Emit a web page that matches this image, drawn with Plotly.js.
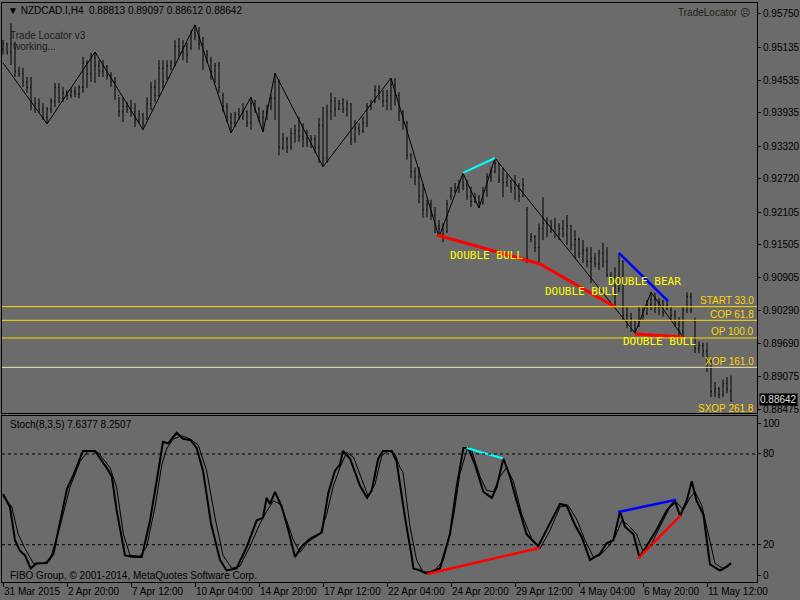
<!DOCTYPE html>
<html>
<head>
<meta charset="utf-8">
<script src="https://cdn.plot.ly/plotly-3.0.1.min.js"></script>
<style>body{margin:0;background:#6b6b6b}</style>
</head>
<body>
<div id="chart" style="width:800px;height:600px"></div>
<script>
// NZDCAD.I H4 bars, oldest first
var highs = [
  0.9527,0.9522,0.9558,0.9524,0.9478,0.9476,0.9459,0.9459,0.9422,0.9420,
  0.9411,0.9404,0.9420,0.9448,0.9448,0.9441,0.9435,0.9439,0.9441,0.9444,
  0.9496,0.9490,0.9503,0.9505,0.9490,0.9490,0.9481,0.9468,0.9459,0.9422,
  0.9422,0.9413,0.9417,0.9411,0.9398,0.9393,0.9422,0.9450,0.9454,0.9490,
  0.9490,0.9490,0.9490,0.9527,0.9531,0.9527,0.9522,0.9546,0.9555,0.9551,
  0.9533,0.9509,0.9496,0.9485,0.9487,0.9430,0.9411,0.9393,0.9395,0.9402,
  0.9411,0.9398,0.9422,0.9417,0.9404,0.9398,0.9408,0.9426,0.9466,0.9454,
  0.9356,0.9349,0.9365,0.9371,0.9386,0.9374,0.9362,0.9352,0.9352,0.9384,
  0.9404,0.9408,0.9430,0.9422,0.9417,0.9420,0.9417,0.9411,0.9380,0.9374,
  0.9386,0.9411,0.9417,0.9444,0.9444,0.9435,0.9435,0.9457,0.9457,0.9431,
  0.9398,0.9378,0.9319,0.9293,0.9293,0.9262,0.9233,0.9233,0.9220,0.9196,
  0.9190,0.9233,0.9257,0.9264,0.9270,0.9282,0.9270,0.9257,0.9246,0.9242,
  0.9257,0.9282,0.9293,0.9310,0.9301,0.9293,0.9282,0.9270,0.9279,0.9264,
  0.9273,0.9220,0.9172,0.9168,0.9190,0.9238,0.9201,0.9196,0.9200,0.9190,
  0.9196,0.9205,0.9187,0.9177,0.9164,0.9159,0.9146,0.9146,0.9135,0.9141,
  0.9154,0.9146,0.9100,0.9109,0.9135,0.9122,0.9036,0.9025,0.9012,0.9036,
  0.9036,0.9049,0.9063,0.9062,0.9052,0.9049,0.9052,0.9036,0.9030,0.9017,
  0.9036,0.9063,0.9062,0.9016,0.8972,0.8970,0.8970,0.8938,0.8898,0.8889,
  0.8902,0.8907,0.89097
];
var lows = [
  0.9500,0.9500,0.9481,0.9459,0.9459,0.9441,0.9430,0.9398,0.9393,0.9393,
  0.9380,0.9373,0.9393,0.9404,0.9411,0.9413,0.9417,0.9420,0.9422,0.9420,
  0.9430,0.9439,0.9450,0.9448,0.9459,0.9459,0.9454,0.9441,0.9417,0.9386,
  0.9376,0.9393,0.9386,0.9367,0.9374,0.9362,0.9380,0.9398,0.9413,0.9422,
  0.9435,0.9454,0.9472,0.9478,0.9496,0.9490,0.9485,0.9509,0.9527,0.9509,
  0.9472,0.9485,0.9454,0.9448,0.9430,0.9395,0.9376,0.9356,0.9367,0.9380,
  0.9380,0.9367,0.9362,0.9393,0.9376,0.9358,0.9380,0.9398,0.9380,0.9315,
  0.9325,0.9319,0.9325,0.9338,0.9340,0.9330,0.9330,0.9328,0.9319,0.9301,
  0.9294,0.9301,0.9380,0.9386,0.9398,0.9393,0.9386,0.9334,0.9338,0.9352,
  0.9356,0.9367,0.9398,0.9411,0.9417,0.9404,0.9398,0.9398,0.9407,0.9378,
  0.9362,0.9307,0.9273,0.9260,0.9227,0.9200,0.9201,0.9196,0.9172,0.9168,
  0.9155,0.9172,0.9233,0.9246,0.9246,0.9251,0.9233,0.9220,0.9227,0.9218,
  0.9224,0.9238,0.9266,0.9282,0.9264,0.9238,0.9257,0.9246,0.9233,0.9229,
  0.9238,0.9117,0.9155,0.9137,0.9117,0.9159,0.9164,0.9172,0.9163,0.9159,
  0.9164,0.9150,0.9141,0.9126,0.9126,0.9117,0.9109,0.9080,0.9109,0.9104,
  0.9109,0.9091,0.9086,0.9036,0.9063,0.9012,0.8997,0.8990,0.8988,0.8999,
  0.9012,0.9021,0.9030,0.9025,0.9021,0.9018,0.9030,0.9012,0.8999,0.8981,
  0.8981,0.9025,0.9025,0.8951,0.8951,0.8944,0.8916,0.8870,0.8870,0.8868,
  0.8870,0.8877,0.88612
];
var opens = [
  0.9510,0.9520,0.9505,0.9520,0.9470,0.9465,0.9450,0.9440,0.9405,0.9410,
  0.9400,0.9385,0.9400,0.9415,0.9440,0.9420,0.9430,0.9425,0.9432,0.9428,
  0.9440,0.9485,0.9465,0.9495,0.9480,0.9470,0.9478,0.9462,0.9450,0.9425,
  0.9395,0.9405,0.9400,0.9395,0.9380,0.9390,0.9382,0.9410,0.9440,0.9425,
  0.9475,0.9450,0.9480,0.9485,0.9515,0.9505,0.9515,0.9512,0.9540,0.9535,
  0.9520,0.9490,0.9490,0.9470,0.9480,0.9425,0.9405,0.9385,0.9375,0.9390,
  0.9385,0.9395,0.9375,0.9410,0.9400,0.9385,0.9395,0.9405,0.9420,0.9450,
  0.9330,0.9345,0.9330,0.9355,0.9360,0.9350,0.9345,0.9340,0.9345,0.9330,
  0.9370,0.9310,0.9395,0.9415,0.9400,0.9410,0.9400,0.9410,0.9345,0.9365,
  0.9360,0.9375,0.9405,0.9415,0.9435,0.9425,0.9415,0.9425,0.9445,0.9425,
  0.9395,0.9375,0.9315,0.9285,0.9275,0.9240,0.9215,0.9225,0.9205,0.9185,
  0.9180,0.9175,0.9240,0.9250,0.9255,0.9265,0.9260,0.9240,0.9230,0.9238,
  0.9228,0.9250,0.9275,0.9285,0.9300,0.9270,0.9265,0.9268,0.9255,0.9260,
  0.9240,0.9215,0.9160,0.9165,0.9145,0.9180,0.9190,0.9175,0.9185,0.9170,
  0.9180,0.9170,0.9185,0.9150,0.9160,0.9135,0.9140,0.9120,0.9125,0.9115,
  0.9135,0.9120,0.9095,0.9090,0.9070,0.9120,0.9020,0.9005,0.9010,0.9000,
  0.9030,0.9025,0.9040,0.9050,0.9035,0.9045,0.9032,0.9030,0.9020,0.9005,
  0.8990,0.9030,0.9055,0.9010,0.8960,0.8965,0.8955,0.8925,0.8880,0.8885,
  0.8875,0.8895,0.88813
];
var closes = [
  0.9520,0.9505,0.9520,0.9470,0.9465,0.9450,0.9440,0.9405,0.9410,0.9400,
  0.9385,0.9400,0.9415,0.9440,0.9420,0.9430,0.9425,0.9432,0.9428,0.9440,
  0.9485,0.9465,0.9495,0.9480,0.9470,0.9478,0.9462,0.9450,0.9425,0.9395,
  0.9405,0.9400,0.9395,0.9380,0.9390,0.9375,0.9410,0.9440,0.9425,0.9475,
  0.9450,0.9480,0.9485,0.9515,0.9505,0.9515,0.9500,0.9540,0.9535,0.9520,
  0.9490,0.9500,0.9470,0.9480,0.9440,0.9405,0.9385,0.9375,0.9390,0.9385,
  0.9395,0.9375,0.9410,0.9400,0.9385,0.9395,0.9405,0.9420,0.9450,0.9330,
  0.9345,0.9330,0.9355,0.9360,0.9350,0.9345,0.9340,0.9345,0.9330,0.9370,
  0.9310,0.9395,0.9415,0.9400,0.9410,0.9400,0.9410,0.9345,0.9365,0.9360,
  0.9375,0.9405,0.9410,0.9435,0.9425,0.9415,0.9425,0.9445,0.9425,0.9395,
  0.9375,0.9315,0.9285,0.9275,0.9240,0.9215,0.9225,0.9205,0.9185,0.9180,
  0.9170,0.9225,0.9250,0.9255,0.9265,0.9260,0.9240,0.9230,0.9238,0.9228,
  0.9250,0.9275,0.9285,0.9300,0.9270,0.9265,0.9275,0.9255,0.9265,0.9240,
  0.9260,0.9125,0.9165,0.9145,0.9180,0.9190,0.9175,0.9185,0.9170,0.9180,
  0.9170,0.9185,0.9150,0.9160,0.9135,0.9140,0.9120,0.9125,0.9115,0.9135,
  0.9120,0.9095,0.9090,0.9045,0.9120,0.9020,0.9005,0.9015,0.8995,0.9030,
  0.9020,0.9040,0.9050,0.9035,0.9045,0.9025,0.9040,0.9020,0.9005,0.8990,
  0.9030,0.9055,0.9030,0.8960,0.8965,0.8955,0.8925,0.8880,0.8885,0.8875,
  0.8895,0.8885,0.88642
];

// zigzag pivots (bar, price)
var zzBar   = [0, 11, 23, 35, 48, 57, 62, 65, 68, 80, 97, 109, 115, 119, 123, 158, 162, 170];
var zzPrice = [0.9485, 0.9373, 0.9505, 0.9362, 0.9555, 0.9356, 0.9422, 0.9358, 0.9466, 0.9294,
               0.9457, 0.9165, 0.9282, 0.9218, 0.9310, 0.8988, 0.9063, 0.8981];

// Trade Locator pattern lines on price
var bullBar1 = [108.5, 134.25, 153], bullPrice1 = [0.91684, 0.91150, 0.90359];
var bullBar2 = [158, 170],           bullPrice2 = [0.89862, 0.89806];
var bearBar  = [154, 166.25],        bearPrice  = [0.91353, 0.90469];
var cyanBar  = [115, 123],           cyanPrice  = [0.92825, 0.93100];

// fibo levels
var fibNames  = ['START 33.0', 'COP 61.8', 'OP 100.0', 'XOP 161.0', 'SXOP 261.8'];
var fibLevels = [0.90365, 0.90114, 0.89789, 0.89249, 0.88357];
var fibColors = ['#ffd700', '#ffd700', '#ffd700', '#eee8aa', '#ffd700'];

// Stochastic(8,3,5)
var kBar = [0,1.75,3,4.25,5.5,6.9,8.4,10.9,12.6,16,17.6,20,23,25.9,27.2,28.4,30.5,32.6,34.7,36.75,
  38.4,40,41.3,43.4,45,47,48.4,50,52,54.25,55.9,58.4,61,63.4,65,65.9,66.75,68,69.7,71.3,
  73,74.7,76.75,79.7,81.3,83,84.25,85,86.75,89.25,91,92.2,93.8,95,97.2,98.4,99.25,100.5,102.2,102.6,
  104.25,105.9,109.25,111.75,113.4,115.1,116.3,118,120.1,122.2,123.4,125.1,126.75,128.4,130.9,133.8,136.3,139.25,140.9,143,
  144.7,146.75,149.25,150.9,152.6,154.25,155.5,157.6,159.1,160.9,163.4,166,168,169.25,170.9,172.2,173.4,175.1,176.75,179.25,
  181,182];
var kVal = [53.6,45,23,16,13,4.4,7.7,8,14,57,66,82,82,71,65,43,13,12,12,36,
  62,88,87,94,90,89,84,69,34,10,3,4.4,19,36,38,51,47,55,45,30,
  12,19,24,28,54,69,73,82,77,59,51,56,77,82,82,75,60,38,12,4.4,
  3,1,4.4,27,58,84,84,73,55,51,58,77,65,49,27,19,32,47,46,33,
  25,10,14,21,23,42,32,27,12,19,30,43,49,39,49,62,49,40,7,3,
  5.5,7.6377];
var dBar = [0,2.2,3.8,5.5,7.6,10,11.75,14.25,16.75,19.25,21.3,23.8,26.75,28.4,30.1,31.75,34.25,35.9,38,39.7,
  41,42.6,44.7,46.75,48.8,50.9,53,55,57.2,59.25,61.75,64.25,65.9,67.6,69.25,70.9,72.6,74.25,76.3,79.25,
  80.9,82.6,84.25,85.9,87.6,89.7,91.3,93,94.7,96.3,98,99.25,100,101.75,103.4,105,107.6,110.1,112.6,114.25,
  116,117.2,119.25,120.9,122.6,124.25,125.9,127.6,129.7,132.2,134.25,136.75,139.25,141.3,143.4,145.5,147.6,149.25,151.3,153,
  154.7,156.3,158.4,160.1,162.2,164.25,166.75,168.4,170.1,171.75,173,174.7,176.3,178,180,182];
var dVal = [52,45,27,17.5,7.7,7.7,10,32,58,75,82,81,71,58,27,13,12.5,18.6,45,73,
  84,90,92,90,86,69,38,13,4.4,6,19,34,42,49,47,36,23,15,22,27,
  40,59,71,81,78,63,52,60,79,82,80,71,68,32,10,2,2,10,38,67,
  83,82,65,56,55,65,71,62,40,24,17.5,29.5,45,46,37,23,12,13,18.6,25,
  36,33,27,15,21,32,45,48,43,51,55,46,27,7.7,4.4,8.2507];

// divergence lines on stochastic
var stCyanBar = [115.9, 125], stCyanVal = [84, 77];
var stRedBar1 = [106, 134.25], stRedVal1 = [0.7, 18];
var stBlueBar = [153.8, 168.25], stBlueVal = [41.6, 49.7];
var stRedBar2 = [158.8, 169.4], stRedVal2 = [11, 39.4];

// axis labels
var priceTicks = [0.95750,0.95135,0.94535,0.93935,0.93320,0.92720,0.92105,0.91505,0.90905,0.90290,0.89690,0.89075,0.88475];
var timeTicks  = [0,16,32,48,64,80,96,112,128,144,160,176];
var timeLabels = ['31 Mar 2015','2 Apr 20:00','7 Apr 12:00','10 Apr 04:00','14 Apr 20:00','17 Apr 12:00',
                  '22 Apr 04:00','24 Apr 20:00','29 Apr 12:00','4 May 04:00','6 May 20:00','11 May 12:00'];
var stochTicks = [0, 20, 80, 100];

var barIdx = [];
for (var i = 0; i < highs.length; i++) barIdx.push(i);

// pixel helpers for text placement (plot area x 2..757, y 3..582)
function px(x) { return (x - 2) / 755; }
function py(y) { return (582 - y) / 579; }

function line(x, y, color, width, xa, ya) {
    return {x: x, y: y, type: 'scatter', mode: 'lines', xaxis: xa, yaxis: ya,
            line: {color: color, width: width}, hoverinfo: 'skip'};
}

var data = [
    {
        type: 'ohlc', x: barIdx, open: opens, high: highs, low: lows, close: closes,
        xaxis: 'x', yaxis: 'y', tickwidth: 0.22,
        increasing: {line: {color: '#000', width: 1}},
        decreasing: {line: {color: '#000', width: 1}},
        hoverinfo: 'skip'
    },
    line(zzBar, zzPrice, '#000', 1, 'x', 'y'),
    line(bullBar1, bullPrice1, '#ff0000', 3, 'x', 'y'),
    line(bullBar2, bullPrice2, '#ff0000', 3, 'x', 'y'),
    line(bearBar, bearPrice, '#0000ff', 2.5, 'x', 'y'),
    line(cyanBar, cyanPrice, '#00ffff', 2, 'x', 'y'),
    line(dBar, dVal, '#000', 1, 'x2', 'y2'),
    line(kBar, kVal, '#000', 2, 'x2', 'y2'),
    line(stCyanBar, stCyanVal, '#00ffff', 2, 'x2', 'y2'),
    line(stRedBar1, stRedVal1, '#ff0000', 2.5, 'x2', 'y2'),
    line(stBlueBar, stBlueVal, '#0000ff', 2.5, 'x2', 'y2'),
    line(stRedBar2, stRedVal2, '#ff0000', 2.5, 'x2', 'y2')
];

var shapes = [];
for (var f = 0; f < 4; f++) {
    shapes.push({type: 'line', xref: 'paper', x0: 0, x1: 1, yref: 'y', y0: fibLevels[f], y1: fibLevels[f],
                 line: {color: fibColors[f], width: 1}});
}
[20, 80].forEach(function (lv) {
    shapes.push({type: 'line', xref: 'paper', x0: 0, x1: 1, yref: 'y2', y0: lv, y1: lv,
                 line: {color: '#000', width: 1, dash: '3px,3px'}});
});

var fibLabelY = [300, 314, 332, 361, 408];
var annotations = [
    {text: '\u25BC NZDCAD.I,H4  0.88813 0.89097 0.88612 0.88642', x: px(6), y: py(11)},
    {text: 'Trade Locator v3', x: px(8), y: py(36), font: {color: '#1c1c1c'}},
    {text: 'working...', x: px(10), y: py(47), font: {color: '#1c1c1c'}},
    {text: 'TradeLocator \u2639', x: px(752), y: py(12), xanchor: 'right', font: {color: '#231c14', size: 10}},
    {text: 'Stoch(8,3,5) 7.6377 8.2507', x: px(8), y: py(424)},
    {text: 'FIBO Group, \u00A9 2001-2014, MetaQuotes Software Corp.', x: px(8), y: py(575)},
    {text: '0.88642', x: px(759), y: py(399), xanchor: 'left', bgcolor: '#000',
     font: {color: '#e0e0e0', size: 10}, borderpad: 0}
];
fibNames.forEach(function (n, k) {
    annotations.push({text: n, x: px(756), y: py(fibLabelY[k]), xanchor: 'right', font: {color: '#ffd700'}});
});
var patText = [['DOUBLE BULL', 487, 255], ['DOUBLE BULL', 581, 291],
               ['DOUBLE BEAR', 644, 281], ['DOUBLE BULL', 659, 341]];
patText.forEach(function (t) {
    annotations.push({text: t[0], x: px(t[1]), y: py(t[2]), xanchor: 'center',
                      font: {family: 'DejaVu Sans Mono, monospace', size: 11, color: '#ffff00'}});
});
annotations.forEach(function (a) {
    a.xref = 'paper'; a.yref = 'paper'; a.showarrow = false;
    if (!a.xanchor) a.xanchor = 'left';
    a.yanchor = 'middle';
});

var axBase = {showgrid: false, zeroline: false, showline: true, mirror: true,
              linecolor: '#000', linewidth: 1, tickcolor: '#000', fixedrange: true};

var layout = {
    width: 800, height: 600,
    margin: {l: 2, r: 43, t: 3, b: 18},
    paper_bgcolor: '#6b6b6b', plot_bgcolor: '#6b6b6b',
    showlegend: false,
    font: {family: 'Liberation Sans, Arial, sans-serif', size: 10, color: '#000'},
    xaxis: Object.assign({}, axBase, {domain: [0, 1], anchor: 'y', range: [-0.25, 188.5],
        showticklabels: false, ticks: '', rangeslider: {visible: false}}),
    yaxis: Object.assign({}, axBase, {domain: [0.2919, 1], anchor: 'x', side: 'right',
        range: [0.88409, 0.95952], tickvals: priceTicks, ticktext: priceTicks.map(function (v) { return v.toFixed(5); }),
        ticks: 'outside', ticklen: 3}),
    xaxis2: Object.assign({}, axBase, {domain: [0, 1], anchor: 'y2', range: [-0.25, 188.5],
        tickvals: timeTicks, ticktext: timeLabels, ticks: 'outside', ticklen: 4,
        ticklabelposition: 'outside right', tickangle: 0}),
    yaxis2: Object.assign({}, axBase, {domain: [0, 0.2867], anchor: 'x2', side: 'right',
        range: [-4.6, 105.1], tickvals: stochTicks, ticks: 'outside', ticklen: 3}),
    shapes: shapes,
    annotations: annotations
};

Plotly.newPlot('chart', data, layout, {displayModeBar: false, staticPlot: true});
</script>
</body>
</html>
